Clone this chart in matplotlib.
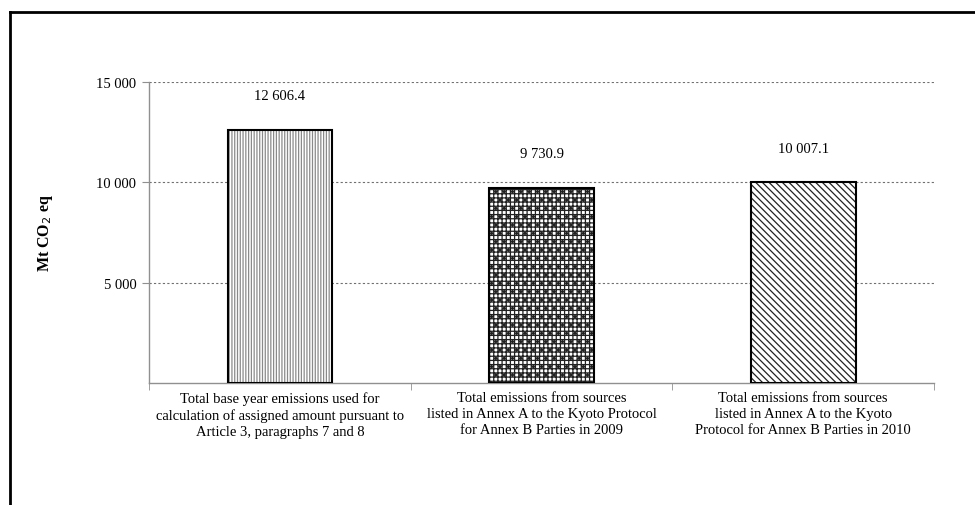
import matplotlib.pyplot as plt
from matplotlib.lines import Line2D

categories = [
    "Total base year emissions used for\ncalculation of assigned amount pursuant to\nArticle 3, paragraphs 7 and 8",
    "Total emissions from sources\nlisted in Annex A to the Kyoto Protocol\nfor Annex B Parties in 2009",
    "Total emissions from sources\nlisted in Annex A to the Kyoto\nProtocol for Annex B Parties in 2010",
]
values = [12606.4, 9730.9, 10007.1]
yticks = [5000, 10000, 15000]
ytick_labels = ["5 000", "10 000", "15 000"]

hatches = ["||||||", "++++..", "\\\\\\\\\\"]
hatch_colors = ["#8a8a8a", "#202020", "#222222"]

plt.rcParams['font.family'] = ['Liberation Serif', 'DejaVu Serif']
plt.rcParams['hatch.linewidth'] = 0.9

fig = plt.figure(figsize=(9.75, 5.06), dpi=100)
ax = fig.add_axes([149 / 975, 1 - 384 / 506, 785 / 975, 301 / 506])

x = list(range(len(values)))
for i, v in enumerate(values):
    ax.bar(x[i], v, width=0.4, color="white", edgecolor=hatch_colors[i],
           hatch=hatches[i], linewidth=0, zorder=3)
    ax.bar(x[i], v, width=0.4, fill=False, edgecolor="black", linewidth=1.5, zorder=4)
    ax.text(x[i], v + 1700, f"{v:,.1f}".replace(",", " "), ha="center", va="center",
            fontsize=10.5)

ax.set_xlim(-0.5, 2.5)
ax.set_ylim(0, 15000)
ax.set_yticks(yticks)
ax.set_yticklabels(ytick_labels, fontsize=10.5)
ax.set_xticks(x)
ax.set_xticklabels(categories, fontsize=10.5, linespacing=1.3)
ax.tick_params(axis="x", length=0, pad=6)
ax.set_xticks([-0.5, 0.5, 1.5, 2.5], minor=True)
ax.tick_params(axis="x", which="minor", length=5, color="#909090", direction="out")
ax.tick_params(axis="y", length=5, color="#909090", direction="out", pad=4)
ax.yaxis.grid(True, linestyle=(0, (2, 2)), color="#707070", linewidth=0.8, zorder=0)
ax.set_axisbelow(True)
for s in ["top", "right"]:
    ax.spines[s].set_visible(False)
for s in ["left", "bottom"]:
    ax.spines[s].set_color("#909090")
    ax.spines[s].set_linewidth(1.0)

ax.set_ylabel("Mt CO$_2$ eq", fontsize=11.5, fontweight="bold")
ax.yaxis.set_label_coords(-0.12, 0.5)

# frame around the figure (top and left edges only)
fig.add_artist(Line2D([9.5 / 975, 1], [1 - 12.5 / 506] * 2, color="black", linewidth=2,
                      transform=fig.transFigure))
fig.add_artist(Line2D([9.5 / 975] * 2, [0, 1 - 12.5 / 506], color="black", linewidth=2,
                      transform=fig.transFigure))

fig.savefig("out.png", dpi=100)
